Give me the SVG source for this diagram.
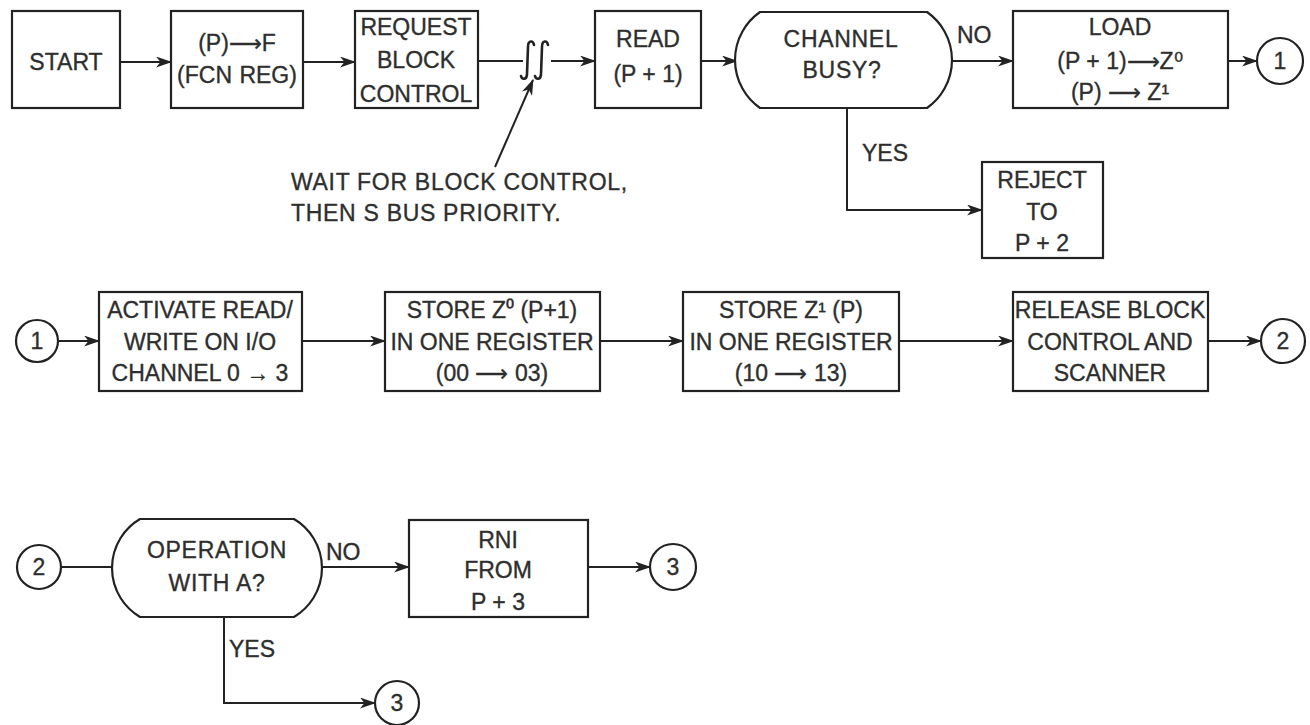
<svg xmlns="http://www.w3.org/2000/svg" width="1310" height="725" viewBox="0 0 1310 725">
<defs>
<marker id="ah" viewBox="0 0 16 11" refX="15" refY="5.5" markerWidth="16" markerHeight="11" markerUnits="userSpaceOnUse" orient="auto">
<path d="M0,0 L16,5.5 L0,11 L4.5,5.5 Z" fill="#222"/>
</marker>
</defs>
<style>
rect, path.shape, circle { fill: #fff; stroke: #222; stroke-width: 2.2; }
.c { fill: none; stroke: #222; stroke-width: 2; }
.int { fill: none; stroke: #222; stroke-width: 2.6; stroke-linecap: round; }
text { font-family: "Liberation Sans", Arial, sans-serif; font-size: 23px; fill: #2e2e2e; stroke: #2e2e2e; stroke-width: 0.35; text-anchor: middle; }
text.l { text-anchor: start; }
text.n { letter-spacing: 0.7px; }
</style>
<rect width="1310" height="725" fill="#fff" style="stroke:none"/>

<g id="connectors">
<line class="c" x1="120" y1="62" x2="171" y2="62" marker-end="url(#ah)"/>
<line class="c" x1="303" y1="62" x2="355" y2="62" marker-end="url(#ah)"/>
<line class="c" x1="478" y1="61" x2="523" y2="61"/>
<path class="int" d="M534,45 C533,40 528,40 528,47 L527,74 C527,80 522,80 521,76"/>
<path class="int" d="M548,45 C547,40 542,40 542,47 L541,74 C541,80 536,80 535,76"/>
<line class="c" x1="551" y1="61" x2="595" y2="61" marker-end="url(#ah)"/>
<line class="c" x1="701" y1="61" x2="737" y2="61" marker-end="url(#ah)"/>
<line class="c" x1="952" y1="61" x2="1013" y2="61" marker-end="url(#ah)"/>
<line class="c" x1="1228" y1="61" x2="1257" y2="61" marker-end="url(#ah)"/>
<polyline class="c" points="847,108 847,210 982,210" marker-end="url(#ah)"/>
<line class="c" x1="495" y1="167" x2="533" y2="80" marker-end="url(#ah)"/>

<line class="c" x1="58" y1="341" x2="99" y2="341" marker-end="url(#ah)"/>
<line class="c" x1="302" y1="341" x2="385" y2="341" marker-end="url(#ah)"/>
<line class="c" x1="600" y1="341" x2="683" y2="341" marker-end="url(#ah)"/>
<line class="c" x1="899" y1="341" x2="1013" y2="341" marker-end="url(#ah)"/>
<line class="c" x1="1208" y1="341" x2="1261" y2="341" marker-end="url(#ah)"/>

<line class="c" x1="61" y1="567" x2="112" y2="567"/>
<line class="c" x1="320" y1="567" x2="409" y2="567" marker-end="url(#ah)"/>
<line class="c" x1="588" y1="567" x2="650" y2="567" marker-end="url(#ah)"/>
<polyline class="c" points="224,617 224,703 375,703" marker-end="url(#ah)"/>
</g>

<g id="start"><rect x="12" y="11" width="108" height="97"/><text x="66" y="70">START</text></g>
<g id="fcn"><rect x="171" y="11" width="132" height="97"/><text x="237" y="51">(P)⟶F</text><text x="237" y="83" style="word-spacing:1px">(FCN REG)</text></g>
<g id="request"><rect x="355" y="11" width="123" height="97"/><text x="416" y="35">REQUEST</text><text x="416" y="68">BLOCK</text><text x="416" y="102">CONTROL</text></g>
<g id="read"><rect x="595" y="11" width="106" height="97"/><text x="648" y="47">READ</text><text x="648" y="82">(P + 1)</text></g>
<g id="busy"><path class="shape" d="M760,12 H927 A58.6,58.6 0 0 1 927,108 H760 A58.6,58.6 0 0 1 760,12 Z"/><text class="n" x="841" y="47">CHANNEL</text><text class="n" x="842" y="78">BUSY?</text></g>
<g id="no1"><text class="l" x="957" y="43">NO</text></g>
<g id="load"><rect x="1013" y="11" width="215" height="97"/><text x="1120" y="35">LOAD</text><text x="1120" y="69">(P + 1)⟶Z⁰</text><text x="1120" y="100">(P) ⟶ Z¹</text></g>
<g id="c1a"><circle cx="1280" cy="61" r="23"/><text x="1280" y="69">1</text></g>
<g id="yes1"><text class="l" x="862" y="161">YES</text></g>
<g id="reject"><rect x="982" y="162" width="121" height="96"/><text x="1042" y="188">REJECT</text><text x="1042" y="220">TO</text><text x="1042" y="251">P + 2</text></g>
<g id="note"><text class="l n" x="291" y="190">WAIT FOR BLOCK CONTROL,</text><text class="l n" x="291" y="221">THEN S BUS PRIORITY.</text></g>

<g id="c1b"><circle cx="37" cy="341" r="21"/><text x="37" y="349">1</text></g>
<g id="activate"><rect x="99" y="292" width="203" height="99"/><text x="200" y="318">ACTIVATE READ/</text><text x="200" y="350">WRITE ON I/O</text><text x="200" y="381">CHANNEL 0 → 3</text></g>
<g id="store0"><rect x="385" y="292" width="215" height="99"/><text x="492" y="318">STORE Z⁰ (P+1)</text><text x="492" y="350">IN ONE REGISTER</text><text x="492" y="381">(00 ⟶ 03)</text></g>
<g id="store1"><rect x="683" y="292" width="216" height="99"/><text x="791" y="318">STORE Z¹ (P)</text><text x="791" y="350">IN ONE REGISTER</text><text x="791" y="381">(10 ⟶ 13)</text></g>
<g id="release"><rect x="1013" y="292" width="195" height="99"/><text x="1110" y="318">RELEASE BLOCK</text><text x="1110" y="350">CONTROL AND</text><text x="1110" y="381">SCANNER</text></g>
<g id="c2a"><circle cx="1283" cy="341" r="22"/><text x="1283" y="349">2</text></g>

<g id="c2b"><circle cx="39" cy="567" r="22"/><text x="39" y="575">2</text></g>
<g id="operation"><path class="shape" d="M140,519 H294 A56.9,56.9 0 0 1 294,617 H140 A56.9,56.9 0 0 1 140,519 Z"/><text class="n" x="217" y="558">OPERATION</text><text class="n" x="217" y="591">WITH A?</text></g>
<g id="no2"><text class="l" x="326" y="560">NO</text></g>
<g id="rni"><rect x="409" y="520" width="179" height="97"/><text x="498" y="548">RNI</text><text x="498" y="578">FROM</text><text x="498" y="610">P + 3</text></g>
<g id="c3a"><circle cx="673" cy="567" r="23"/><text x="673" y="575">3</text></g>
<g id="yes2"><text class="l" x="229" y="657">YES</text></g>
<g id="c3b"><circle cx="397" cy="703" r="22"/><text x="397" y="711">3</text></g>
</svg>
